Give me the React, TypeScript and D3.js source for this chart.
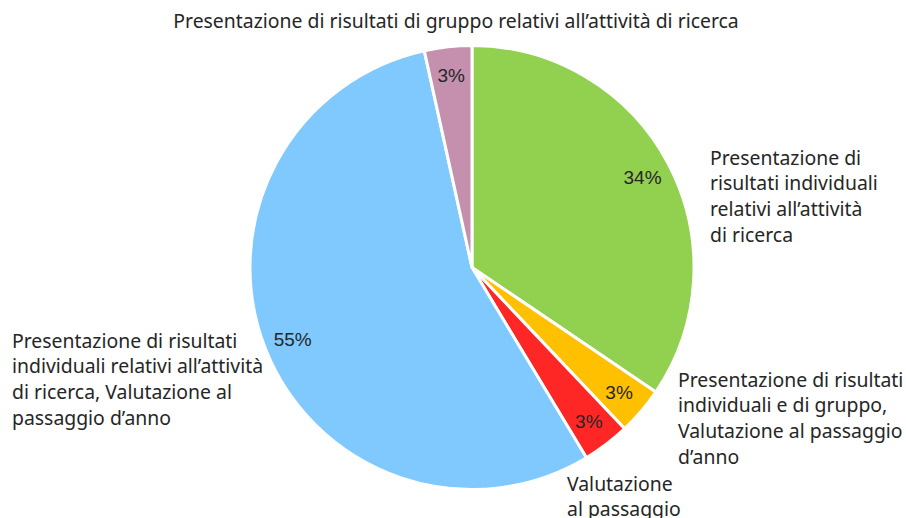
import React from "react";
import * as d3 from "d3";

const categories = [
  "Presentazione di risultati individuali relativi all’attività di ricerca",
  "Presentazione di risultati individuali e di gruppo, Valutazione al passaggio d’anno",
  "Valutazione al passaggio d’anno",
  "Presentazione di risultati individuali relativi all’attività di ricerca, Valutazione al passaggio d’anno",
  "Presentazione di risultati di gruppo relativi all’attività di ricerca",
];
const values = [10, 1, 1, 16, 1];
const colors = ["#92D050", "#FFC000", "#FF2626", "#80C9FF", "#C490AD"];
const labelLines = [
  ["Presentazione di", "risultati individuali", "relativi all’attività", "di ricerca"],
  ["Presentazione di risultati", "individuali e di gruppo,", "Valutazione al passaggio", "d’anno"],
  ["Valutazione", "al passaggio"],
  ["Presentazione di risultati", "individuali relativi all’attività", "di ricerca, Valutazione al", "passaggio d’anno"],
  ["Presentazione di risultati di gruppo relativi all’attività di ricerca"],
];
// label anchor (left x, first line center y), text-anchor
const labelPos: [number, number, string][] = [
  [710, 158, "start"],
  [678, 380, "start"],
  [567, 484, "start"],
  [12, 341, "start"],
  [456, 21, "middle"],
];

const W = 906, H = 518;
const cx = 472, cy = 267.5, R = 222;
const LH = 25.7;
const FONT = "'Noto Sans', sans-serif";

export default function App() {
  const total = d3.sum(values);
  const pie = d3.pie<number>().sort(null).value((d) => d);
  const arcs = pie(values);
  const arc = d3.arc<d3.PieArcDatum<number>>().innerRadius(0).outerRadius(R);
  const labelArc = d3.arc<d3.PieArcDatum<number>>().innerRadius(193 * 2 - R).outerRadius(R);
  return (
    <svg width={W} height={H} style={{ position: "absolute", left: 0, top: 0, background: "#fff" }}>
      <g transform={`translate(${cx},${cy})`}>
        {arcs.map((a, i) => (
          <path key={i} d={arc(a) || ""} fill={colors[i]} stroke="#fff" strokeWidth={3} strokeLinejoin="round" />
        ))}
        {arcs.map((a, i) => {
          const [x, y] = labelArc.centroid(a);
          return (
            <text key={i} x={x} y={y} dy="0.35em" textAnchor="middle" fontFamily="'Liberation Sans', Arial, sans-serif" fontSize={19} fill="#262626">
              {`${Math.round((values[i] / total) * 100)}%`}
            </text>
          );
        })}
      </g>
      {labelLines.map((lines, i) => (
        <text key={i} fontFamily={FONT} fontSize={19.4} fill="#262626" textAnchor={labelPos[i][2] as any}>
          {lines.map((l, j) => (
            <tspan key={j} x={labelPos[i][0]} y={labelPos[i][1] + j * LH} dy="0.35em">{l}</tspan>
          ))}
        </text>
      ))}
    </svg>
  );
}
